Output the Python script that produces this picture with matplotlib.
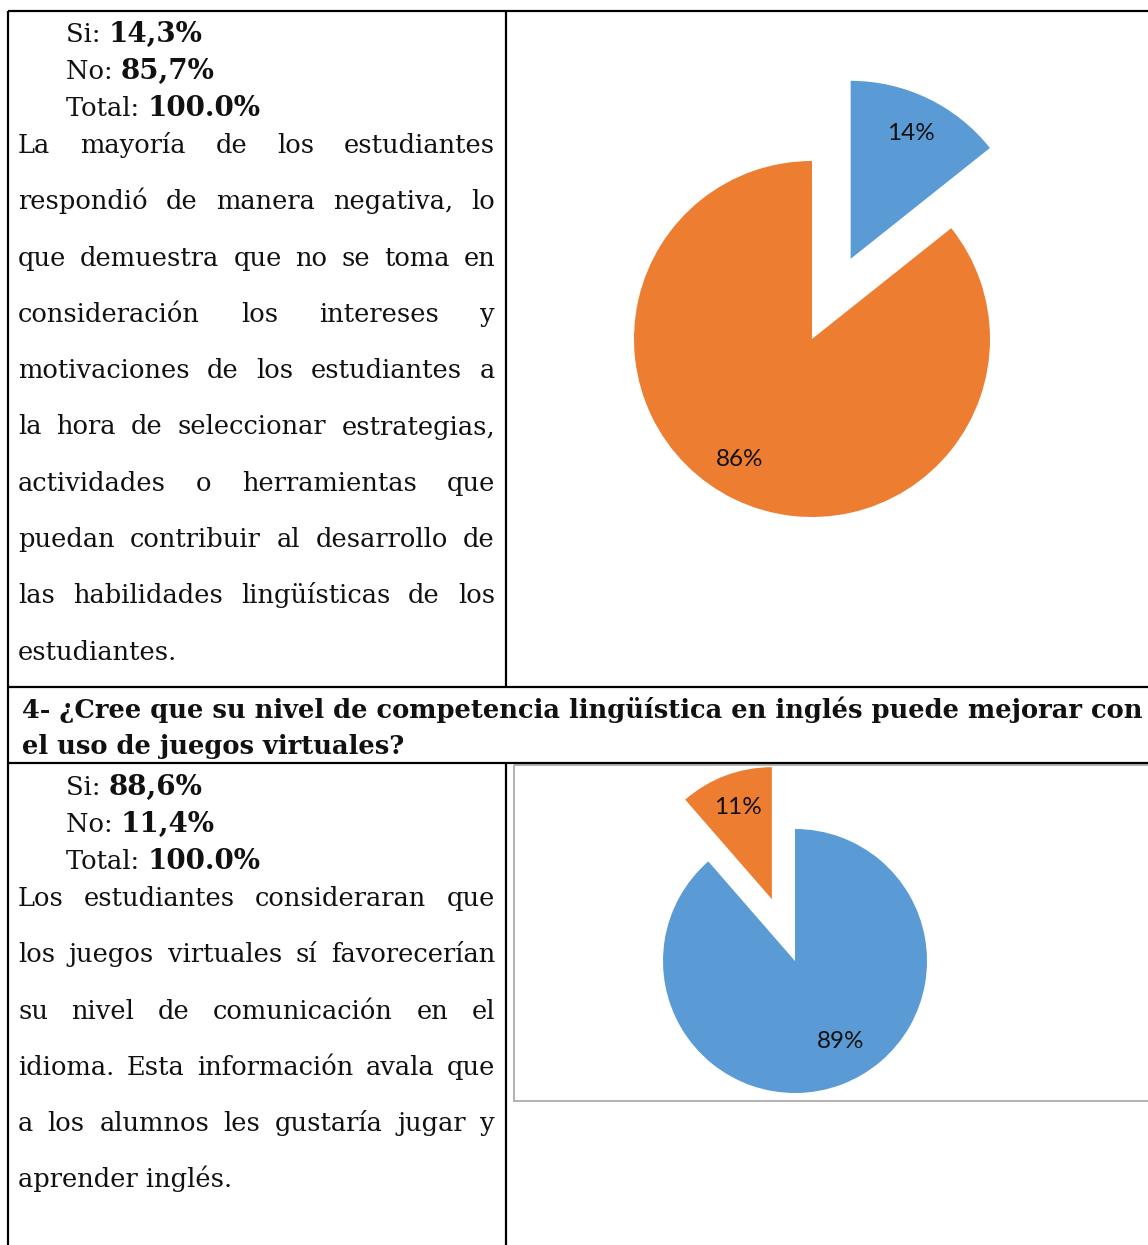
import numpy as np
import matplotlib.pyplot as plt
from matplotlib.patches import Rectangle

W, H = 1148, 1245

# survey answers (percent)
q3_labels = ["Si", "No"]
q3_values = [14.3, 85.7]
q4_labels = ["Si", "No"]
q4_values = [88.6, 11.4]
pie_colors = ["#5B9BD5", "#ED7D31"]

q3_text = [
    "La mayoría de los estudiantes",
    "respondió de manera negativa, lo",
    "que demuestra que no se toma en",
    "consideración los intereses y",
    "motivaciones de los estudiantes a",
    "la hora de seleccionar estrategias,",
    "actividades o herramientas que",
    "puedan contribuir al desarrollo de",
    "las habilidades lingüísticas de los",
    "estudiantes.",
]
q4_title = [
    "4- ¿Cree que su nivel de competencia lingüística en inglés puede mejorar con",
    "el uso de juegos virtuales?",
]
q4_text = [
    "Los estudiantes consideraran que",
    "los juegos virtuales sí favorecerían",
    "su nivel de comunicación en el",
    "idioma. Esta información avala que",
    "a los alumnos les gustaría jugar y",
    "aprender inglés.",
]

SERIF = "DejaVu Serif"
BODY = dict(family=SERIF, fontsize=18.5, color="#111111", va="baseline", ha="left")

fig = plt.figure(figsize=(W / 100, H / 100), dpi=100)
page = fig.add_axes([0, 0, 1, 1])
page.set_xlim(0, W)
page.set_ylim(H, 0)
page.axis("off")
renderer = fig.canvas.get_renderer()


def text_width(s, **kw):
    t = page.text(0, 0, s, **kw)
    w = t.get_window_extent(renderer).width
    t.remove()
    return w


def summary(values, x, y0, step=37):
    rows = [(f"{lab}:", f"{v:.1f}%".replace(".", ",")) for lab, v in zip(["Si", "No"], values)]
    rows.append(("Total:", f"{sum(values):.1f}%"))
    for i, (name, val) in enumerate(rows):
        y = y0 + i * step
        page.text(x, y, name + " ", **BODY)
        page.text(x + text_width(name + " ", **BODY), y, val,
                  **{**BODY, "fontweight": "bold", "fontsize": 20})


def paragraph(lines, x0, x1, y0, step=56.3):
    for i, line in enumerate(lines):
        y = y0 + i * step
        words = line.split()
        if i == len(lines) - 1:
            page.text(x0, y, line, **BODY)
            continue
        widths = [text_width(w, **BODY) for w in words]
        gap = (x1 - x0 - sum(widths)) / (len(words) - 1)
        x = x0
        for w, wd in zip(words, widths):
            page.text(x, y, w, **BODY)
            x += wd + gap


def draw_pie(values, explode, cx, cy, r, label_dist, label_turn, span=1.7):
    side = 2 * span * r
    ax = fig.add_axes([(cx - span * r) / W, 1 - (cy + span * r) / H, side / W, side / H])
    wedges, _, autotexts = ax.pie(
        values,
        explode=explode,
        colors=pie_colors,
        startangle=90,
        counterclock=False,
        autopct=lambda p: f"{p:.0f}%",
        wedgeprops=dict(linewidth=0),
        textprops=dict(family="Lato", fontsize=17.5, color="#111111"),
    )
    # place each percentage inside its wedge
    for w, t, d, turn in zip(wedges, autotexts, label_dist, label_turn):
        ang = np.deg2rad((w.theta1 + w.theta2) / 2 + turn)
        x0, y0 = w.center
        t.set_position((x0 + d * np.cos(ang), y0 + d * np.sin(ang)))
    ax.set_xlim(-span, span)
    ax.set_ylim(-span, span)
    ax.set_aspect("equal")
    return ax


# table grid
line = dict(color="black", lw=1.6, solid_capstyle="butt")
page.plot([8, W], [11, 11], **line)
page.plot([8, 8], [11, H], **line)
page.plot([506, 506], [11, 687], **line)
page.plot([506, 506], [763, H], **line)
page.plot([8, W], [687, 687], **line)
page.plot([8, W], [763, 763], **line)

# chart frame for question 4
page.add_patch(Rectangle((514, 765), 640, 336, fill=False, edgecolor="#A6A6A6", lw=1.2))

# question 3 cell
summary(q3_values, 66, 42)
paragraph(q3_text, 18, 495, 153)

# question 4 header, sized to span the row
head = dict(family=SERIF, fontweight="bold", color="#111111", va="baseline", ha="left")
size = 17
size *= 1121 / text_width(q4_title[0], fontsize=size, **head)
for i, t in enumerate(q4_title):
    page.text(22, 718 + i * 36, t, fontsize=size, **head)

# question 4 cell
summary(q4_values, 66, 795)
paragraph(q4_text, 18, 495, 906)

draw_pie(q3_values, [0.5, 0], 812, 339, 178, [0.78, 0.79], [0, -5])
draw_pie(q4_values, [0, 0.5], 795, 961, 132, [0.70, 0.74], [9, 0])

fig.savefig("out.png", dpi=100, facecolor="white")
